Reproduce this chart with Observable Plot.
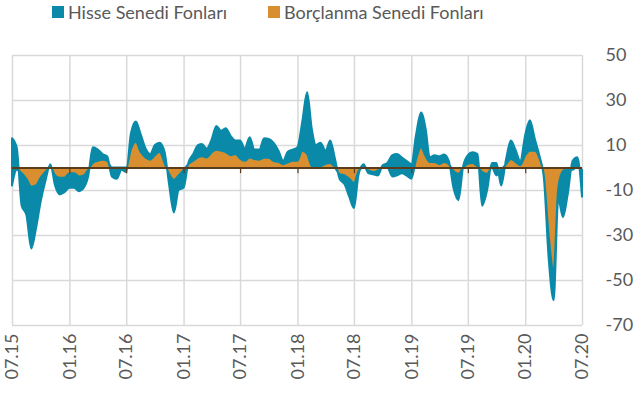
<!DOCTYPE html>
<html><head><meta charset="utf-8">
<script src="https://cdn.jsdelivr.net/npm/d3@7"></script>
<script src="https://cdn.jsdelivr.net/npm/@observablehq/plot@0.6"></script>
<style>
body{margin:0;background:#fff;font-family:Lato,sans-serif;}
#legend{position:relative;height:30px;width:636px;font-size:18px;color:#595959;}
.item{position:absolute;top:2px;display:flex;align-items:center;height:20px;white-space:nowrap;}
.sw{width:12px;height:12px;margin-right:4px;}
</style></head><body>
<div id="legend"></div><div id="chart"></div>
<script>
const seriesNames = ["Hisse Senedi Fonları", "Borçlanma Senedi Fonları"];
const seriesColors = ["#0a8aa8", "#d98f2f"];
// half-monthly observations starting 07.2015
const startYear = 2015, startMonth = 7;
const borc = [
 -8,-1,-2.5,-5,-8.5,-8,-4.5,-2,0.5,-3.5,-4.5,-4.5,-2.5,-2.5,-4,-3.5,-1,2,3,3.5,
 3,0,0,0,0,8,11.5,7,4.5,3.5,5.5,7,2,-3,-5.5,-3.5,-1,1.5,3,4.5,
 5,4.5,6.7,7.9,7.5,6.8,5.5,6,3.9,3,4.4,3.8,3.5,4.3,4.3,3,2.5,1.5,2.3,3,
 3,7.5,6,0.5,0,0.5,1.6,2,0,-3,-3.5,-5,-7,-1.5,0,-1.3,-2,-1.3,0,0,
 -4,-3.5,-2.5,-3.5,-5,3.5,9,5,2.4,2.5,1.5,2.5,1.5,-1.5,-2.8,0,1.6,2,0.5,-2,
 -2.8,0,-3.5,-1,1.5,3.8,2.5,1,5.4,7.5,7.5,4,-4,-30,-46,-9,-1.5,-0.5,-1,0.5,-1
];
const hisse = [
 21,10,-14.5,-16,-27.5,-19,-10.5,-4,1,-4.5,-7.5,-6.5,-6.5,-6.5,-6.5,-5.5,-3,7,5,2.5,
 2,-4,-5,-1,-2,7,9,8,4,2.5,4.5,4,5,-5,-14.5,-6.5,-8,0.5,3,5.5,
 5.5,3.9,5.8,10.6,8.8,10.7,8.5,6,8.1,5.5,9.1,4.2,4.5,8.7,8.4,8,5,1.5,4.7,4.9,
 6,12.5,27.5,16.5,10,10.5,5.9,10,4,-2,-4,-8,-11,-1.5,1.5,-1.2,-1,-2.2,1,2,
 9.5,9.5,7,6.5,6.5,11,15.5,12,2.1,3,3.5,3.3,1.5,-7.5,-11.7,0.5,3.9,4.8,5.5,-15,
 -7.2,2,5.5,-7,2.5,8.2,5.3,2,9.1,13.5,5,1,-1,-10,-13,-5,-20.5,-11.5,4,4.1,-12
];
const tickLabels = ["07.15","01.16","07.16","01.17","07.17","01.18","07.18","01.19","07.19","01.20","07.20"];
const yTicks = [50, 30, 10, -10, -30, -50, -70];

const tickDates = tickLabels.map(s => {
  const [m, y] = s.split(".");
  return new Date(Date.UTC(2000 + +y, +m - 1, 1));
});
const data = borc.map((b, i) => ({
  date: new Date(Date.UTC(startYear, startMonth - 1 + Math.floor(i / 2), i % 2 ? 16 : 1)),
  b,
  t: b + hisse[i]
}));

// legend
const lg = document.getElementById("legend");
const lefts = [52, 268];
seriesNames.forEach((n, i) => {
  const d = document.createElement("div");
  d.className = "item"; d.style.left = lefts[i] + "px";
  d.innerHTML = `<span class="sw" style="background:${seriesColors[i]}"></span><span>${n}</span>`;
  lg.appendChild(d);
});

const plot = Plot.plot({
  width: 636, height: 371,
  marginLeft: 12, marginRight: 54, marginTop: 25, marginBottom: 76,
  style: {fontFamily: "Lato, sans-serif", fontSize: "18px", color: "#595959", background: "#fff"},
  x: {type: "utc", domain: [tickDates[0], tickDates[tickDates.length - 1]]},
  y: {domain: [-70, 50]},
  marks: [
    Plot.ruleY(yTicks, {stroke: "#d9d9d9", strokeWidth: 1.5}),
    Plot.ruleX(tickDates, {stroke: "#d9d9d9", strokeWidth: 1.5}),
    Plot.areaY(data, {x: "date", y1: 0, y2: "b", fill: seriesColors[1], curve: "monotone-x"}),
    Plot.areaY(data, {x: "date", y1: "b", y2: "t", fill: seriesColors[0], stroke: seriesColors[0], strokeWidth: 2, curve: "monotone-x"}),
    Plot.ruleY([0], {stroke: "#5a3b1c", strokeWidth: 1.8}),
    Plot.ruleX(tickDates.slice(1, -1), {y1: 0, y2: -2.5, stroke: "#5a3b1c", strokeWidth: 1.2}),
    Plot.axisY(yTicks, {anchor: "right", tickSize: 0, tickPadding: 23, textAnchor: "start", label: null, fontSize: 18,
      tickFormat: d => String(d)}),
    Plot.axisX(tickDates, {anchor: "bottom", tickSize: 0, tickPadding: 8, tickRotate: -90, label: null, fontSize: 18,
      tickFormat: d => tickLabels[tickDates.findIndex(t => +t === +d)]})
  ]
});
document.getElementById("chart").appendChild(plot);
</script>
</body></html>
